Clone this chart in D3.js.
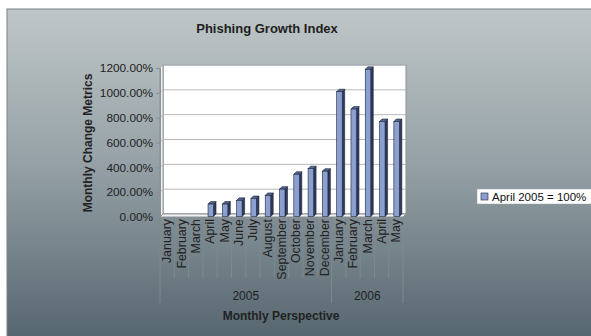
<!DOCTYPE html>
<html>
<head>
<meta charset="utf-8">
<script src="https://cdn.jsdelivr.net/npm/d3@7"></script>
<style>
  body { margin: 0; background: #fff; }
  svg { display: block; font-family: "Liberation Sans", Arial, sans-serif; }
</style>
</head>
<body>
<svg id="chart" width="591" height="336"></svg>
<script>
// chart data
const months = ["January", "February", "March", "April", "May", "June", "July", "August",
  "September", "October", "November", "December", "January", "February", "March", "April", "May"];
const monthYear = ["2005", "2005", "2005", "2005", "2005", "2005", "2005", "2005",
  "2005", "2005", "2005", "2005", "2006", "2006", "2006", "2006", "2006"];
const years = ["2005", "2006"];
const growth = [0, 0, 0, 100, 100, 130, 145, 170, 220, 340, 385, 365, 1005, 865, 1185, 765, 765];
const yTicks = [0, 200, 400, 600, 800, 1000, 1200];
const seriesName = "April 2005 = 100%";

const svg = d3.select("#chart");

// background panel with vertical gradient
const defs = svg.append("defs");
const grad = defs.append("linearGradient").attr("id", "bg")
  .attr("x1", 0).attr("y1", 0).attr("x2", 0).attr("y2", 1);
grad.append("stop").attr("offset", "0%").attr("stop-color", "#bfc6c7");
grad.append("stop").attr("offset", "45%").attr("stop-color", "#97a3a8");
grad.append("stop").attr("offset", "100%").attr("stop-color", "#56666f");

svg.append("rect")
  .attr("x", 7).attr("y", 9).attr("width", 590).attr("height", 330)
  .attr("fill", "url(#bg)")
  .attr("stroke", "#7c8286").attr("stroke-width", 1);

const left = 160, right = 403;
const depth = 3; // 3d wall offset

const x = d3.scaleBand().domain(d3.range(months.length)).range([left, right]);
const y = d3.scaleLinear().domain([0, 1200]).range([217, 68]);

// back wall + floor
svg.append("rect")
  .attr("x", left + depth).attr("y", y(1200) - depth)
  .attr("width", right - left).attr("height", y(0) - y(1200))
  .attr("fill", "#fff").attr("stroke", "#8a8f93").attr("stroke-width", 1);

svg.append("path")
  .attr("d", `M${left},${y(0)}L${right},${y(0)}L${right + depth},${y(0) - depth}L${left + depth},${y(0) - depth}Z`)
  .attr("fill", "#f4f4f4").attr("stroke", "#8a8f93").attr("stroke-width", 1);

svg.append("path")
  .attr("d", `M${left},${y(1200)}L${left},${y(0)}L${left + depth},${y(0) - depth}L${left + depth},${y(1200) - depth}Z`)
  .attr("fill", "#f4f4f4").attr("stroke", "#8a8f93").attr("stroke-width", 1);

// gridlines on the wall
svg.append("g").selectAll("path").data(yTicks.slice(1)).join("path")
  .attr("d", d => `M${left},${y(d)}L${left + depth},${y(d) - depth}L${right + depth},${y(d) - depth}`)
  .attr("fill", "none").attr("stroke", "#b5b9bc").attr("stroke-width", 1);

// y axis
const yAxis = svg.append("g")
  .attr("transform", `translate(${left},0)`)
  .call(d3.axisLeft(y).tickValues(yTicks).tickSize(4).tickPadding(3)
    .tickFormat(d => d3.format(".2f")(d) + "%"));
yAxis.select(".domain").attr("stroke", "#8a8f93");
yAxis.selectAll(".tick line").attr("stroke", "#8a8f93");
yAxis.selectAll("text").attr("font-size", 11.8).attr("fill", "#222")
  .attr("font-family", "Liberation Sans, Arial, sans-serif");

// bars (3d columns)
const bw = 5.5, bd = 2.5;
const bars = svg.append("g").selectAll("g")
  .data(growth.map((v, i) => ({ v, i })).filter(d => d.v > 0)).join("g");

bars.append("path") // right side
  .attr("d", d => {
    const x1 = x(d.i) + x.bandwidth() / 2 - 2 + bw, t = y(d.v) - 0.5, b = y(0) - 0.5;
    return `M${x1},${t}L${x1 + bd},${t - bd}L${x1 + bd},${b - bd}L${x1},${b}Z`;
  })
  .attr("fill", "#2f3b5e").attr("stroke", "#1c2438").attr("stroke-width", 0.6);

bars.append("path") // top
  .attr("d", d => {
    const x0 = x(d.i) + x.bandwidth() / 2 - 2, x1 = x0 + bw, t = y(d.v) - 0.5;
    return `M${x0},${t}L${x0 + bd},${t - bd}L${x1 + bd},${t - bd}L${x1},${t}Z`;
  })
  .attr("fill", "#55658f").attr("stroke", "#1c2438").attr("stroke-width", 0.6);

bars.append("rect") // front
  .attr("x", d => x(d.i) + x.bandwidth() / 2 - 2)
  .attr("y", d => y(d.v) - 0.5)
  .attr("width", bw)
  .attr("height", d => y(0) - y(d.v))
  .attr("fill", "#8b9fd0").attr("stroke", "#1c2438").attr("stroke-width", 0.6);

// category separators and month labels
const sep = svg.append("g").attr("stroke", "#7f898e").attr("stroke-width", 1);
d3.range(months.length + 1).forEach(i => {
  const xx = i < months.length ? x(i) : right;
  const isYearEdge = i === 0 || i === months.length || monthYear[i] !== monthYear[i - 1];
  sep.append("line")
    .attr("x1", xx).attr("x2", xx)
    .attr("y1", y(0)).attr("y2", isYearEdge ? 303 : 278);
});

svg.append("g").selectAll("text").data(months).join("text")
  .attr("transform", (d, i) => `translate(${x(i) + x.bandwidth() / 2},219) rotate(-90)`)
  .attr("text-anchor", "end")
  .attr("dy", "0.35em")
  .attr("font-size", 12.4).attr("fill", "#222")
  .text(d => d);

// year labels
svg.append("g").selectAll("text").data(years).join("text")
  .attr("x", yr => {
    const idx = d3.range(months.length).filter(i => monthYear[i] === yr);
    return (x(idx[0]) + x(idx[idx.length - 1]) + x.bandwidth()) / 2;
  })
  .attr("y", 300)
  .attr("text-anchor", "middle")
  .attr("font-size", 12).attr("fill", "#222")
  .text(d => d);

// titles
svg.append("text")
  .attr("x", 267).attr("y", 33)
  .attr("text-anchor", "middle")
  .attr("font-size", 13).attr("font-weight", "bold").attr("fill", "#1e1e1e")
  .text("Phishing Growth Index");

svg.append("text")
  .attr("transform", "translate(92,143) rotate(-90)")
  .attr("text-anchor", "middle")
  .attr("font-size", 12).attr("font-weight", "bold").attr("fill", "#222")
  .text("Monthly Change Metrics");

svg.append("text")
  .attr("x", 281).attr("y", 320)
  .attr("text-anchor", "middle")
  .attr("font-size", 12).attr("font-weight", "bold").attr("fill", "#222")
  .text("Monthly Perspective");

// legend
const legend = svg.append("g").attr("transform", "translate(477,189)");
legend.append("rect")
  .attr("width", 120).attr("height", 15)
  .attr("fill", "#fff").attr("stroke", "#9aa0a4").attr("stroke-width", 0.5);
legend.append("rect")
  .attr("x", 4).attr("y", 4).attr("width", 7).attr("height", 7)
  .attr("fill", "#8b9fd0").attr("stroke", "#1c2438").attr("stroke-width", 0.6);
legend.append("text")
  .attr("x", 15).attr("y", 11.5)
  .attr("font-size", 11.5).attr("fill", "#111")
  .text(seriesName);
</script>
</body>
</html>
